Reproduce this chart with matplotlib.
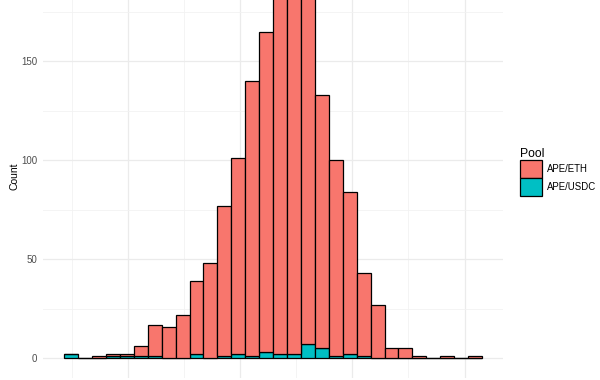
import numpy as np
import matplotlib
matplotlib.use('Agg')
import matplotlib.pyplot as plt
from matplotlib.patches import Patch

plt.rcParams['font.family'] = ['Liberation Sans', 'DejaVu Sans']

# histogram (30 bins) counts per pool
bin_lo, bin_hi = -0.565, 3.155
eth_counts = [0, 0, 1, 1, 1, 5, 16, 16, 22, 37, 48, 76, 99, 139, 162,
              188, 193, 181, 128, 99, 82, 42, 27, 5, 5, 1, 0, 1, 0, 1]
usdc_counts = [2, 0, 0, 1, 1, 1, 1, 0, 0, 2, 0, 1, 2, 1, 3,
               2, 2, 7, 5, 1, 2, 1, 0, 0, 0, 0, 0, 0, 0, 0]
pools = ['APE/ETH', 'APE/USDC']
colors = {'APE/ETH': '#F8766D', 'APE/USDC': '#00BFC4'}

edges = np.linspace(bin_lo, bin_hi, len(eth_counts) + 1)
width = edges[1] - edges[0]

fig = plt.figure(figsize=(6, 3.8), dpi=100)
# panel is cropped: top and bottom run past the figure like in the reference
ax = fig.add_axes([43 / 600, 0.005, 460 / 600, 1.0942])

ax.bar(edges[:-1], usdc_counts, width=width, align='edge',
       color=colors['APE/USDC'], edgecolor='black', linewidth=0.9, zorder=3)
ax.bar(edges[:-1], eth_counts, width=width, align='edge', bottom=usdc_counts,
       color=colors['APE/ETH'], edgecolor='black', linewidth=0.9, zorder=3)

ax.set_xlim(-0.754, 3.342)
ax.set_ylim(-10, 200)

ax.set_yticks([0, 50, 100, 150])
ax.set_yticks([25, 75, 125, 175], minor=True)
ax.set_xticks([0, 1, 2, 3])
ax.set_xticks([-0.5, 0.5, 1.5, 2.5], minor=True)
ax.grid(which='major', color='#EBEBEB', linewidth=0.9, zorder=0)
ax.grid(which='minor', color='#F2F2F2', linewidth=0.6, zorder=0)
ax.tick_params(which='both', length=0)
ax.tick_params(axis='y', labelsize=7, labelcolor='#4D4D4D', pad=4)
ax.tick_params(axis='x', labelbottom=False)
for s in ax.spines.values():
    s.set_visible(False)

fig.text(15 / 600, 1 - 176 / 380, 'Count', rotation=90, ha='center', va='center',
         fontsize=7.5, color='black')

handles = [Patch(facecolor=colors[p], edgecolor='black', linewidth=0.9) for p in pools]
leg = fig.legend(handles, pools, title='Pool', loc='upper left',
                 bbox_to_anchor=(520 / 600, 1 - 148 / 380), frameon=False,
                 fontsize=6.9, title_fontsize=8.7, handlelength=2.3, handleheight=2.5,
                 labelspacing=0.0, handletextpad=0.55, borderaxespad=0, borderpad=0,
                 alignment='left')

fig.savefig('out.png', dpi=100)
